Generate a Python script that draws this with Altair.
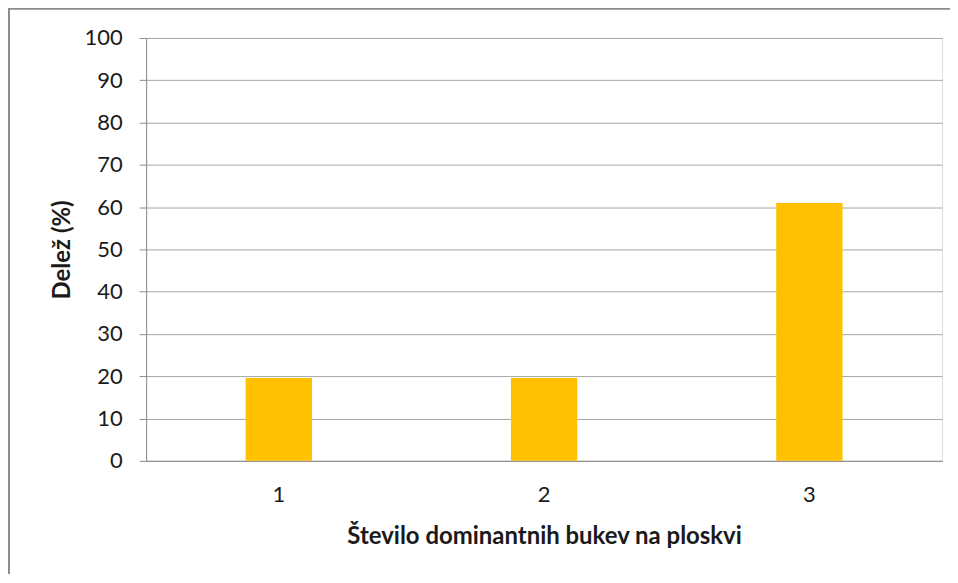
import altair as alt
import pandas as pd

categories = ["1", "2", "3"]
values = [19.6, 19.6, 61.0]
y_ticks = list(range(0, 101, 10))

df = pd.DataFrame({"cat": categories, "val": values})

FONT = "Lato"
TEXT = "#1a1a1a"
GRID = "#a6a6a6"
AXIS = "#8c8c8c"

bars = alt.Chart(df).mark_bar(color="#FFC000").encode(
    x=alt.X(
        "cat:N",
        sort=categories,
        scale=alt.Scale(paddingInner=0.75, paddingOuter=0.375),
        axis=alt.Axis(
            title="Število dominantnih bukev na ploskvi",
            labelAngle=0,
            ticks=False,
            grid=False,
            domainColor=AXIS,
            domainWidth=1,
            labelFont=FONT,
            labelFontSize=22,
            labelColor=TEXT,
            labelPadding=24,
            titleFont=FONT,
            titleFontSize=24,
            titleFontWeight="bold",
            titleColor=TEXT,
            titlePadding=19,
        ),
    ),
    y=alt.Y(
        "val:Q",
        scale=alt.Scale(domain=[0, 100], nice=False),
        axis=alt.Axis(
            title="Delež (%)",
            values=y_ticks,
            tickSize=7,
            tickColor=AXIS,
            domainColor=AXIS,
            gridColor=GRID,
            gridWidth=1,
            labelFont=FONT,
            labelFontSize=22,
            labelColor=TEXT,
            labelPadding=17,
            titleFont=FONT,
            titleFontSize=24,
            titleFontWeight="bold",
            titleColor=TEXT,
            titlePadding=10,
        ),
    ),
)

frame = alt.Data(values=[{"k": 0}])
left_border = alt.Chart(frame).mark_rule(color=AXIS, strokeWidth=2, clip=False).encode(
    x=alt.value(-137.5), y=alt.value(-29.3), y2=alt.value(600)
)
top_border = alt.Chart(frame).mark_rule(color=AXIS, strokeWidth=2, clip=False).encode(
    x=alt.value(-138.5), x2=alt.value(830), y=alt.value(-29.3)
)

chart = alt.layer(bars, left_border, top_border).properties(
    width=798,
    height=424,
    autosize=alt.AutoSizeParams(type="none"),
    padding={"left": 138.5, "top": 29.3, "right": 8, "bottom": 113},
).configure_view(strokeWidth=0).configure(background="white")

chart.save("out.html", embed_options={"renderer": "svg", "actions": False})
